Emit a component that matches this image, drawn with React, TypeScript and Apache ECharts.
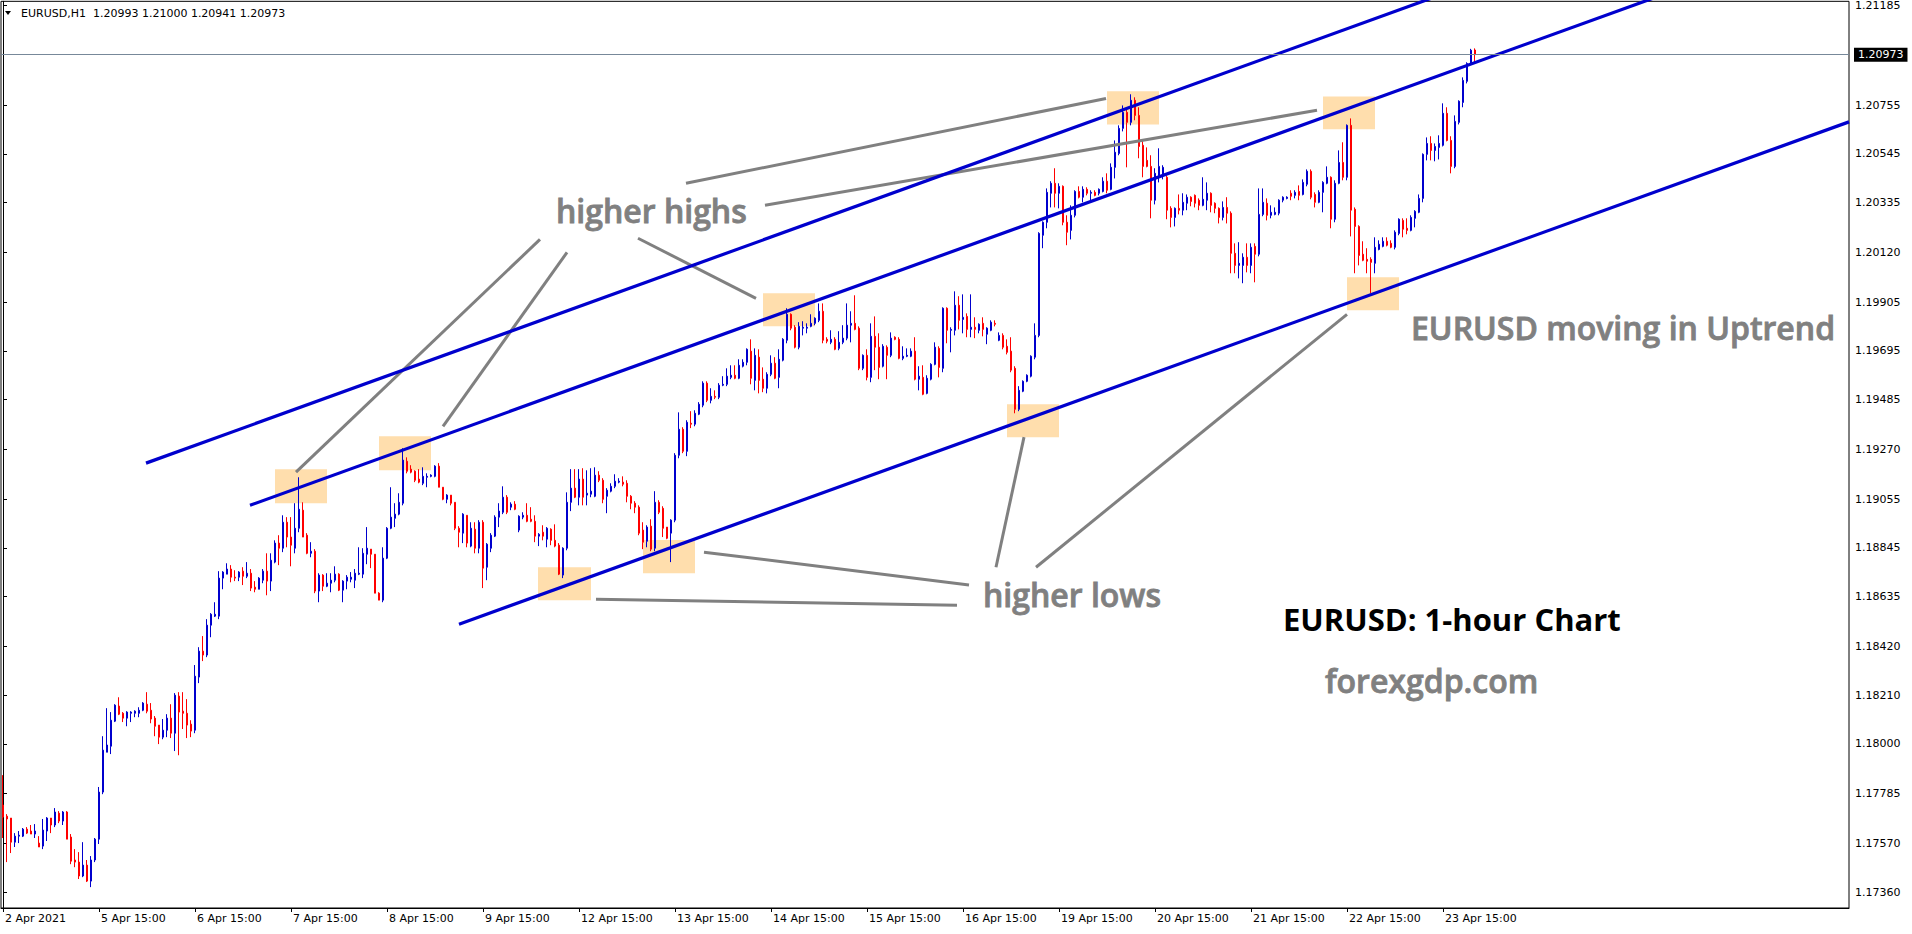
import React, { useEffect, useRef } from "react";
import * as echarts from "echarts";

// EURUSD H1 bars, prices in points (1e-5). Bar 0 = 2 Apr 2021 15:00.
const openPts = [
  117736,117688,117680,117576,117602,117602,117632,117624,117611,117572,
  117559,117624,117680,117650,117701,117667,117706,117598,117499,117490,
  117430,117477,117408,117499,117589,117792,117964,117990,118098,118163,
  118132,118111,118132,118132,118132,118145,118171,118145,118111,118081,
  118029,118059,118111,118046,118206,118141,118132,118085,118059,118288,
  118400,118383,118512,118551,118551,118715,118732,118754,118719,118719,
  118745,118723,118736,118676,118667,118706,118745,118702,118784,118866,
  118844,118956,118892,118844,118930,119008,118900,118822,118831,118659,
  118728,118680,118693,118706,118732,118663,118702,118710,118706,118732,
  118732,118818,118840,118818,118650,118620,118801,118930,118973,118991,
  119038,119219,119185,119176,119142,119124,119150,119154,119154,119198,
  119107,119055,119073,119042,118930,118909,118986,118853,118926,118844,
  118956,118762,118844,118896,118978,118999,119064,119021,119034,118922,
  118978,118986,118969,118960,118896,118913,118883,118926,118878,118857,
  118728,118844,119042,119103,119064,119142,119073,119077,119068,119159,
  119137,119068,119090,119111,119129,119129,119124,119068,119038,119021,
  118922,118874,118939,118844,119042,119016,118935,118909,118965,119245,
  119357,119262,119383,119379,119422,119461,119556,119482,119499,119495,
  119547,119551,119581,119590,119577,119629,119646,119694,119568,119668,
  119573,119534,119594,119642,119581,119655,119741,119853,119797,119711,
  119793,119793,119801,119814,119827,119866,119745,119732,119745,119706,
  119732,119750,119806,119814,119793,119620,119676,119581,119758,119711,
  119629,119711,119676,119754,119745,119663,119672,119672,119694,119573,
  119581,119512,119573,119637,119706,119620,119879,119784,119784,119892,
  119831,119844,119788,119797,119784,119814,119767,119784,119814,119741,
  119762,119715,119694,119620,119443,119521,119564,119586,119668,119762,
  120194,120250,120375,120418,120375,120405,120250,120215,120280,120383,
  120358,120392,120375,120379,120375,120383,120427,120392,120487,120547,
  120655,120724,120681,120776,120711,120582,120517,120491,120345,120452,
  120457,120444,120310,120271,120310,120302,120332,120358,120366,120345,
  120323,120345,120375,120332,120310,120271,120314,120289,120116,120064,
  120064,120099,120064,120146,120112,120284,120332,120280,120284,120289,
  120345,120353,120375,120366,120383,120370,120414,120470,120370,120336,
  120379,120418,120444,120263,120418,120508,120444,120668,120306,120232,
  120112,120090,120090,120073,120133,120146,120168,120159,120142,120202,
  120258,120224,120215,120267,120293,120353,120543,120590,120560,120573,
  120582,120720,120603,120491,120681,120767,120858,120935,120993,
];

const closePts = [
  117684,117676,117576,117602,117606,117632,117615,117611,117624,117555,
  117628,117680,117650,117706,117667,117706,117589,117494,117490,117430,
  117477,117408,117499,117589,117792,117973,117995,118102,118167,118128,
  118111,118137,118137,118141,118145,118176,118141,118107,118076,118029,
  118059,118111,118046,118210,118137,118132,118081,118055,118292,118400,
  118383,118512,118559,118559,118715,118741,118754,118719,118715,118741,
  118723,118736,118672,118667,118715,118745,118702,118792,118866,118844,
  118956,118892,118857,118930,119012,118892,118822,118831,118659,118728,
  118680,118693,118706,118732,118663,118702,118719,118719,118736,118736,
  118822,118844,118818,118650,118620,118801,118930,118978,118991,119042,
  119224,119176,119172,119137,119129,119154,119154,119159,119198,119107,
  119055,119073,119038,118930,118913,118991,118866,118930,118844,118956,
  118758,118861,118900,118978,119004,119064,118999,119034,119012,118982,
  118986,118960,118960,118896,118904,118896,118930,118878,118853,118732,
  118844,119042,119103,119064,119142,119064,119081,119090,119159,119137,
  119055,119094,119111,119133,119133,119120,119068,119038,119021,118909,
  118870,118935,118840,119042,118999,118930,118887,118965,119245,119357,
  119262,119387,119379,119426,119465,119556,119482,119499,119495,119547,
  119551,119586,119590,119577,119633,119646,119702,119577,119676,119568,
  119534,119594,119642,119577,119659,119745,119853,119793,119711,119801,
  119797,119797,119814,119836,119866,119741,119737,119745,119702,119732,
  119750,119806,119814,119788,119620,119676,119581,119758,119711,119624,
  119715,119676,119750,119745,119663,119672,119676,119694,119573,119586,
  119508,119577,119637,119711,119624,119879,119784,119788,119892,119827,
  119840,119788,119797,119788,119810,119788,119793,119819,119810,119762,
  119711,119689,119612,119443,119525,119564,119590,119672,119762,120202,
  120250,120379,120418,120375,120405,120250,120207,120280,120383,120358,
  120392,120375,120379,120366,120392,120427,120388,120487,120552,120655,
  120724,120681,120776,120711,120577,120491,120491,120345,120461,120491,
  120487,120302,120271,120310,120302,120336,120358,120340,120332,120323,
  120349,120375,120323,120310,120271,120314,120289,120116,120064,120073,
  120099,120064,120142,120112,120284,120336,120280,120293,120293,120345,
  120358,120358,120362,120379,120366,120422,120470,120358,120336,120379,
  120422,120444,120263,120418,120508,120444,120668,120302,120232,120107,
  120086,120082,120077,120142,120155,120168,120151,120142,120207,120263,
  120220,120215,120271,120297,120353,120543,120590,120560,120577,120590,
  120720,120603,120491,120685,120772,120862,120935,120992,120973,
];

const highPts = [
  117865,117697,117680,117615,117624,117637,117641,117650,117654,117602,
  117676,117684,117680,117723,117710,117710,117710,117611,117546,117533,
  117576,117499,117516,117594,117814,118033,118154,118137,118171,118201,
  118137,118141,118141,118145,118158,118180,118223,118176,118120,118081,
  118107,118128,118171,118219,118223,118223,118193,118102,118340,118417,
  118465,118538,118564,118611,118745,118745,118779,118771,118749,118745,
  118762,118784,118754,118702,118719,118754,118822,118822,118878,118900,
  118986,118978,118978,119038,119150,119042,118909,118870,118840,118736,
  118732,118736,118736,118766,118736,118706,118728,118741,118754,118848,
  118844,118935,118840,118818,118654,118848,118935,119107,119038,119081,
  119275,119236,119202,119180,119185,119193,119167,119163,119202,119211,
  119107,119077,119073,119042,118939,118995,118986,118956,118956,118965,
  118965,118866,118909,118986,119038,119111,119073,119042,119047,118986,
  118999,119038,119021,118986,118909,118943,118935,118930,118947,118866,
  118848,119085,119185,119185,119185,119189,119180,119189,119193,119176,
  119146,119103,119124,119163,119146,119154,119137,119073,119047,119029,
  118956,118943,118969,119090,119051,119025,118935,118969,119254,119430,
  119366,119396,119435,119439,119474,119564,119564,119534,119525,119556,
  119586,119620,119633,119633,119659,119659,119706,119745,119706,119702,
  119624,119603,119676,119668,119702,119750,119879,119857,119806,119819,
  119823,119814,119853,119840,119900,119900,119754,119784,119754,119780,
  119806,119900,119866,119935,119801,119680,119702,119814,119844,119771,
  119724,119719,119775,119758,119754,119715,119706,119706,119754,119629,
  119633,119590,119642,119732,119715,119883,119883,119797,119952,119931,
  119939,119857,119939,119840,119814,119840,119797,119827,119827,119775,
  119771,119745,119754,119629,119543,119568,119594,119676,119814,120207,
  120254,120396,120427,120483,120418,120409,120280,120323,120388,120405,
  120405,120401,120388,120388,120396,120444,120461,120504,120603,120668,
  120754,120741,120802,120789,120746,120603,120573,120539,120483,120569,
  120496,120452,120319,120314,120370,120375,120370,120362,120370,120353,
  120444,120422,120379,120336,120314,120340,120358,120297,120159,120164,
  120116,120159,120159,120159,120396,120396,120353,120323,120314,120349,
  120362,120362,120388,120388,120409,120435,120478,120478,120379,120388,
  120427,120491,120448,120431,120560,120595,120672,120698,120314,120237,
  120168,120138,120099,120185,120172,120185,120185,120172,120215,120267,
  120267,120267,120280,120302,120370,120547,120616,120621,120590,120625,
  120763,120746,120621,120711,120776,120875,120940,120998,121000,
];

const lowPts = [
  117594,117490,117529,117555,117572,117598,117611,117611,117594,117555,
  117546,117581,117615,117641,117658,117650,117589,117481,117468,117417,
  117425,117404,117382,117490,117568,117783,117964,117956,118094,118124,
  118094,118076,118094,118115,118115,118141,118132,118089,118033,117999,
  118020,118029,118025,117969,117951,118064,118025,118029,118046,118262,
  118357,118374,118460,118547,118538,118667,118732,118697,118702,118702,
  118685,118715,118659,118654,118667,118693,118641,118659,118779,118771,
  118827,118848,118766,118822,118913,118892,118818,118805,118650,118611,
  118659,118676,118654,118697,118659,118611,118667,118697,118672,118728,
  118715,118775,118758,118650,118620,118611,118797,118926,118935,118986,
  119029,119167,119167,119129,119124,119116,119107,119150,119150,119107,
  119051,119038,119029,118922,118848,118866,118848,118848,118822,118822,
  118672,118706,118827,118892,118935,118991,118991,119008,119008,118913,
  118969,118956,118956,118870,118853,118878,118848,118857,118848,118728,
  118715,118835,119004,119060,119029,119029,119029,119064,119064,119129,
  119038,118995,119085,119103,119124,119111,119042,119012,118995,118900,
  118840,118848,118831,118831,118991,118892,118883,118784,118956,119232,
  119254,119241,119362,119370,119418,119452,119474,119469,119487,119487,
  119543,119543,119573,119573,119573,119624,119633,119551,119525,119512,
  119517,119512,119586,119573,119534,119650,119728,119784,119706,119702,
  119762,119771,119797,119806,119819,119728,119728,119724,119698,119698,
  119724,119741,119732,119784,119612,119612,119568,119560,119612,119573,
  119624,119573,119668,119741,119659,119655,119668,119668,119568,119525,
  119504,119508,119568,119633,119581,119603,119728,119689,119762,119788,
  119771,119754,119754,119750,119771,119758,119724,119780,119801,119737,
  119702,119680,119603,119426,119435,119517,119560,119581,119659,119754,
  120138,120224,120314,120314,120310,120237,120151,120176,120271,120353,
  120336,120366,120345,120362,120366,120379,120375,120388,120439,120539,
  120642,120487,120668,120690,120526,120444,120487,120267,120327,120422,
  120435,120263,120228,120232,120284,120280,120302,120319,120314,120302,
  120319,120302,120293,120289,120245,120258,120245,120030,120030,120008,
  119987,120034,120030,119991,120103,120276,120258,120267,120280,120280,
  120336,120349,120345,120353,120345,120366,120405,120349,120314,120332,
  120293,120414,120224,120250,120414,120431,120431,120189,120030,120064,
  120082,120030,119944,120030,120129,120142,120146,120138,120133,120194,
  120185,120198,120211,120228,120289,120336,120517,120517,120513,120521,
  120577,120599,120461,120483,120672,120746,120849,120930,120941,
];

// time-scale labels, one every 24 bars starting at bar 0
const timeLabels = [
  "2 Apr 2021", "5 Apr 15:00", "6 Apr 15:00", "7 Apr 15:00", "8 Apr 15:00",
  "9 Apr 15:00", "12 Apr 15:00", "13 Apr 15:00", "14 Apr 15:00", "15 Apr 15:00",
  "16 Apr 15:00", "19 Apr 15:00", "20 Apr 15:00", "21 Apr 15:00", "22 Apr 15:00",
  "23 Apr 15:00",
];

// price-scale labels
const priceTicks = [
  1.1736, 1.1757, 1.17785, 1.18, 1.1821, 1.1842, 1.18635, 1.18845, 1.19055,
  1.1927, 1.19485, 1.19695, 1.19905, 1.2012, 1.20335, 1.20545, 1.20755, 1.21185,
];

const lastPrice = 1.20973;
const headerText = "EURUSD,H1  1.20993 1.21000 1.20941 1.20973";

// channel trend lines: [barIndex, price] endpoints
const upperChannel = [[35.75, 1.19211], [370, 1.21297]];
const middleChannel = [[61.75, 1.19029], [420, 1.21263]];
const lowerChannel = [[114, 1.18516], [461.5, 1.20683]];

// grey pointer lines: [barIndex, price] endpoints
const pointerLines = [
  [[170.75, 1.20418], [275.75, 1.20784]],
  [[190.5, 1.20323], [328.5, 1.20733]],
  [[134.25, 1.20176], [73.25, 1.19172]],
  [[141, 1.2012], [110, 1.1937]],
  [[158.75, 1.20181], [188.25, 1.19922]],
  [[148.25, 1.18624], [238.5, 1.18598]],
  [[175.25, 1.18827], [241.5, 1.18685]],
  [[248.25, 1.18762], [255.25, 1.19323]],
  [[258.25, 1.18762], [336, 1.19853]],
];

// highlighted swing points: [bar0, priceTop, bar1, priceBottom]
const swingBoxes = [
  [68, 1.19185, 81, 1.19038],
  [94, 1.19327, 107, 1.1918],
  [133.75, 1.18762, 147, 1.1862],
  [160, 1.18879, 173, 1.18736],
  [190, 1.19944, 203, 1.19801],
  [251, 1.19465, 264, 1.19323],
  [276, 1.20815, 289, 1.20672],
  [330, 1.20793, 343, 1.20651],
  [336, 1.20013, 349, 1.1987],
];

const SLOTS = 462;
const AXIS_FONT = "DejaVu Sans";
const BLUE = "#0000CD";

export default function App() {
  const ref = useRef<HTMLDivElement>(null);

  useEffect(() => {
    document.body.style.margin = "0";
    const chart = echarts.init(ref.current as HTMLDivElement, null, { renderer: "svg" });

    const cats = Array.from({ length: SLOTS }, (_, i) => String(i));
    const candles = openPts.map((o, i) => {
      const c = closePts[i];
      const h = Math.max(highPts[i], o, c);
      const l = Math.min(lowPts[i], o, c);
      return [o / 1e5, c / 1e5, l / 1e5, h / 1e5];
    });
    const labelAt = (idx: number) => idx % 24 === 0 && idx < openPts.length;

    const lineSeries = (data: number[][], color: string, width: number, z: number) => ({
      type: "line",
      xAxisIndex: 1,
      yAxisIndex: 0,
      data,
      symbol: "none",
      silent: true,
      clip: true,
      z,
      lineStyle: { color, width, cap: "butt" },
    });

    const annotation = (text: string, x: number, y: number, fill: string, font: string, stroke: number) => ({
      type: "text",
      x,
      y,
      z: 10,
      style: {
        text,
        fill,
        font,
        verticalAlign: "middle",
        stroke: stroke > 0 ? fill : undefined,
        lineWidth: stroke,
      },
    });

    const option: any = {
      animation: false,
      backgroundColor: "#ffffff",
      grid: {
        left: 1,
        right: 63,
        top: 1,
        bottom: 26,
        show: true,
        borderColor: "#000000",
        borderWidth: 1,
        backgroundColor: "#ffffff",
      },
      xAxis: [
        {
          type: "category",
          data: cats,
          boundaryGap: true,
          axisLine: { show: true, lineStyle: { color: "#000", width: 1 } },
          axisTick: {
            show: true,
            alignWithLabel: true,
            interval: (idx: number) => labelAt(idx),
            length: 4,
            lineStyle: { color: "#000" },
          },
          axisLabel: {
            interval: (idx: number) => labelAt(idx),
            formatter: (_v: string, idx: number) => timeLabels[Math.round(idx / 24)] ?? "",
            align: "left",
            color: "#000",
            fontFamily: AXIS_FONT,
            fontSize: 11,
            margin: 5,
            padding: [0, 0, 0, 2],
            hideOverlap: false,
          },
          splitLine: { show: false },
        },
        { type: "value", min: -0.5, max: SLOTS - 0.5, show: false },
      ],
      yAxis: {
        type: "value",
        position: "right",
        min: 1.17292,
        max: 1.21203,
        axisLine: { show: true, lineStyle: { color: "#000", width: 1 } },
        axisTick: { show: true, customValues: priceTicks, length: 4, lineStyle: { color: "#000" } },
        axisLabel: {
          customValues: priceTicks,
          formatter: (v: number) => v.toFixed(5),
          color: "#000",
          fontFamily: AXIS_FONT,
          fontSize: 11,
          margin: 6,
        },
        splitLine: { show: false },
      },
      series: [
        {
          type: "line",
          xAxisIndex: 1,
          yAxisIndex: 0,
          data: [],
          silent: true,
          z: 1,
          markArea: {
            silent: true,
            z: 1,
            itemStyle: { color: "#FFDEAD", opacity: 1 },
            data: swingBoxes.map((b) => [{ coord: [b[0], b[1]] }, { coord: [b[2], b[3]] }]),
          },
        },
        {
          type: "candlestick",
          data: candles,
          barWidth: 2,
          z: 2,
          silent: true,
          itemStyle: {
            color: BLUE,
            color0: "#FF0000",
            borderColor: BLUE,
            borderColor0: "#FF0000",
            borderWidth: 1,
          },
          markLine: {
            silent: true,
            symbol: "none",
            precision: 5,
            data: [{ yAxis: lastPrice }],
            lineStyle: { color: "#778899", width: 1, type: "solid" },
            label: {
              show: true,
              position: "end",
              distance: 5,
              formatter: lastPrice.toFixed(5),
              backgroundColor: "#000",
              color: "#fff",
              padding: [2, 4, 1, 4],
              fontFamily: AXIS_FONT,
              fontSize: 11,
            },
          },
        },
        ...pointerLines.map((seg) => lineSeries(seg, "#808080", 3, 3)),
        lineSeries(upperChannel, BLUE, 3.2, 4),
        lineSeries(middleChannel, BLUE, 3.2, 4),
        lineSeries(lowerChannel, BLUE, 3.2, 4),
      ],
      graphic: [
        {
          type: "polygon",
          shape: { points: [[5, 11], [11, 11], [8, 15]] },
          style: { fill: "#000" },
          z: 10,
        },
        {
          type: "text",
          x: 21,
          y: 13,
          z: 10,
          style: { text: headerText, fill: "#000", font: `11px "${AXIS_FONT}"`, verticalAlign: "middle" },
        },
        annotation("higher highs", 556, 210, "#808080", '600 32px "Open Sans"', 0.8),
        annotation("higher lows", 983, 594, "#808080", '600 32px "Open Sans"', 0.8),
        annotation("EURUSD moving in Uptrend", 1411, 327, "#808080", '600 32px "Open Sans"', 0.8),
        annotation("EURUSD: 1-hour Chart", 1283, 619, "#000000", '700 31px "Open Sans"', 0),
        annotation("forexgdp.com", 1325, 680, "#808080", '600 32px "Open Sans"', 0.8),
      ],
    };

    chart.setOption(option);
    return () => chart.dispose();
  }, []);

  return (
    <div
      ref={ref}
      style={{ position: "absolute", left: 0, top: 0, width: 1912, height: 934, background: "#fff" }}
    />
  );
}
